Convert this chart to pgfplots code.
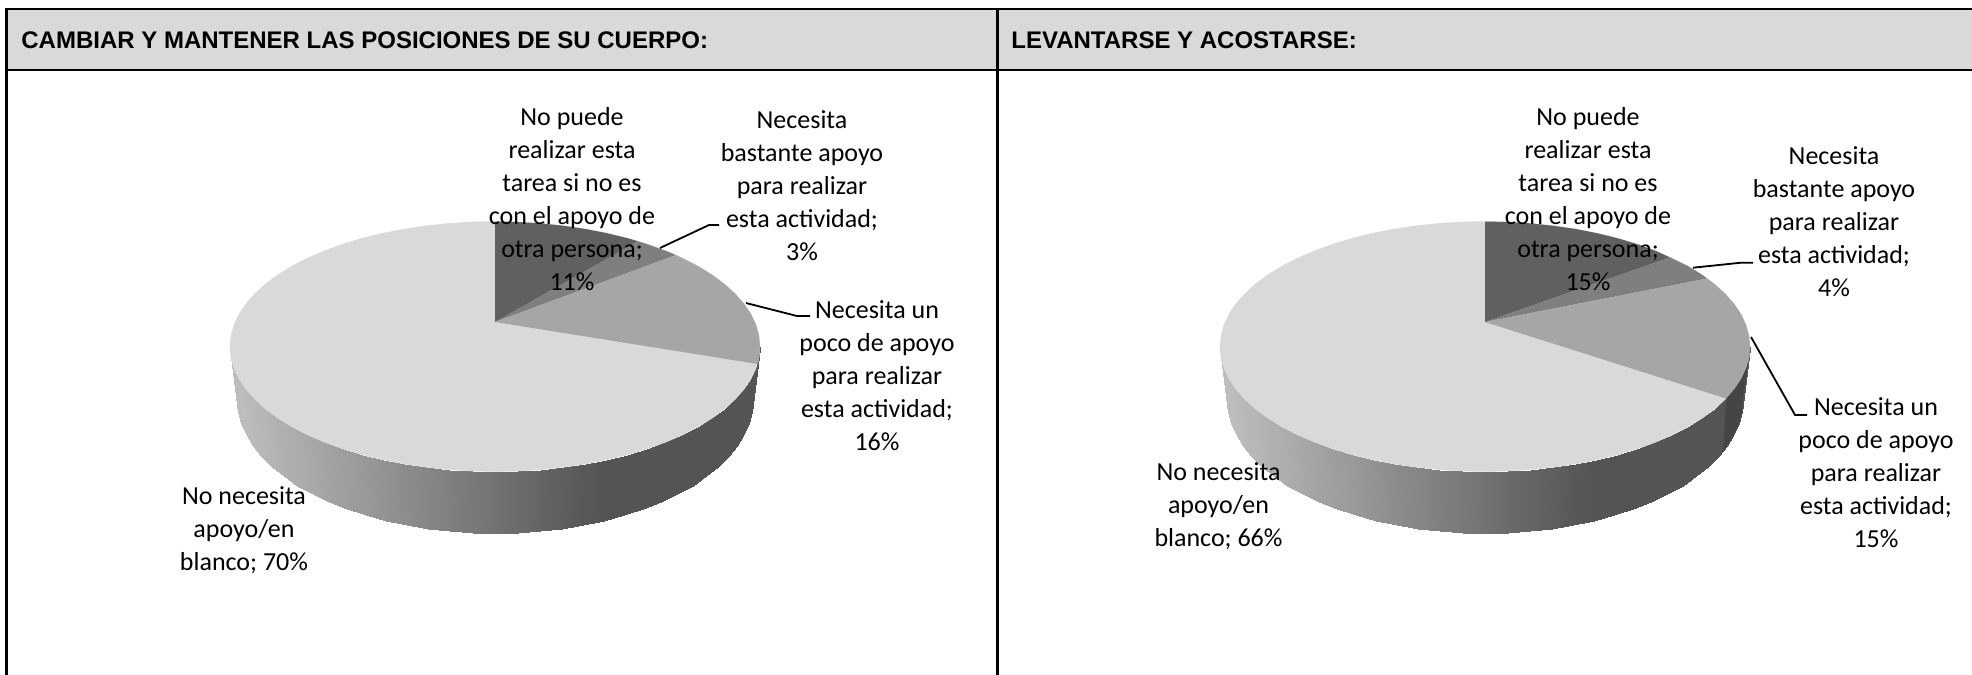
\documentclass[border=0pt]{standalone}
\usepackage{fontspec}
\setmainfont{Carlito}
\newfontfamily\hdrfont{Liberation Sans}
\usepackage{pgfplots}
\usepackage{pgfplotstable}
\pgfplotsset{compat=1.18}

\definecolor{pieA}{HTML}{D9D9D9}
\definecolor{pieB}{HTML}{A6A6A6}
\definecolor{pieC}{HTML}{7F7F7F}
\definecolor{pieD}{HTML}{606060}

% side wall of the disc: top rim, then bottom rim, g = gray level
\pgfplotstableread{
x y g
230 346.5 .74
231 357.4 .74
234 368.2 .74
239 378.9 .74
246 389.3 .73
254.8 399.3 .72
265.5 409 .71
277.9 418.2 .69
292 426.9 .68
307.6 434.9 .66
324.7 442.3 .64
343 448.9 .62
362.5 454.8 .60
383 459.8 .575
404.4 464 .55
426.4 467.2 .525
449 469.6 .50
471.9 471 .475
495 471.5 .45
518.1 471 .42
541 469.6 .395
563.6 467.2 .37
585.6 464 .345
607 459.8 .33
627.5 454.8 .33
647 448.9 .33
665.3 442.3 .33
682.4 434.9 .33
698 426.9 .33
712.1 418.2 .33
724.5 409 .33
735.2 399.3 .33
744 389.3 .33
751 378.9 .33
756 368.2 .33
759 357.4 .33
760 346.5 .33
237 400 .74
238 411.6 .74
240.9 423.1 .74
245.8 434.4 .74
252.6 445.5 .73
261.2 456.2 .72
271.6 466.5 .71
283.6 476.3 .69
297.4 485.5 .68
312.6 494 .66
329.2 501.9 .64
347 508.9 .62
366 515.2 .60
386 520.5 .575
406.8 525 .55
428.2 528.5 .525
450.2 531 .50
472.5 532.5 .475
495 533 .45
517.5 532.5 .42
539.8 531 .395
561.8 528.5 .37
583.2 525 .345
604 520.5 .33
624 515.2 .33
643 508.9 .33
660.8 501.9 .33
677.4 494 .33
692.6 485.5 .33
706.4 476.3 .33
718.4 466.5 .33
728.8 456.2 .33
737.4 445.5 .33
744.2 434.4 .33
749.1 423.1 .33
752 411.6 .33
753 400 .33
}\walltable

% top rim of the disc
\pgfplotstableread{
x y
230 346.5
231 335.6
234 324.8
239 314.1
246 303.7
254.8 293.7
265.5 284
277.9 274.8
292 266.1
307.6 258.1
324.7 250.7
343 244.1
362.5 238.2
383 233.2
404.4 229
426.4 225.8
449 223.4
471.9 222
495 221.5
518.1 222
541 223.4
563.6 225.8
585.6 229
607 233.2
627.5 238.2
647 244.1
665.3 250.7
682.4 258.1
698 266.1
712.1 274.8
724.5 284
735.2 293.7
744 303.7
751 314.1
756 324.8
759 335.6
760 346.5
759 357.4
756 368.2
751 378.9
744 389.3
735.2 399.3
724.5 409
712.1 418.2
698 426.9
682.4 434.9
665.3 442.3
647 448.9
627.5 454.8
607 459.8
585.6 464
563.6 467.2
541 469.6
518.1 471
495 471.5
471.9 471
449 469.6
426.4 467.2
404.4 464
383 459.8
362.5 454.8
343 448.9
324.7 442.3
307.6 434.9
292 426.9
277.9 418.2
265.5 409
254.8 399.3
246 389.3
239 378.9
234 368.2
231 357.4
}\rimtable

\pgfplotsset{
  panel/.style={
    scale only axis, width=986pt, height=337.5pt,
    at={(0,0)}, anchor=south west,
    ymin=0, ymax=675, y dir=reverse,
    hide axis, clip=true,
    colormap/blackwhite, point meta min=0, point meta max=1,
  },
  lead/.style={black, line width=.9pt, no marks},
}
\tikzset{
  lab/.style={font=\fontsize{13}{16.5}\selectfont, align=center, inner sep=0pt, black},
  hdr/.style={font=\fontsize{12}{14}\hdrfont\bfseries, anchor=west, inner sep=0pt, black},
}
\newcommand{\disc}{%
  \addplot[surf, shader=interp, mesh/rows=2, point meta=explicit]
    table[x=x, y=y, meta=g] {\walltable};
  \addplot[fill=pieA, draw=pieA, line width=.2pt] table[x=x, y=y] {\rimtable} -- cycle;
}

\begin{document}
\begin{tikzpicture}
\useasboundingbox (0,0) rectangle (986pt,337.5pt);

% left panel, with frame and header band
\begin{axis}[panel, xmin=0, xmax=1972]
  \fill[pieA] (axis cs:6.5,9) rectangle (axis cs:1972,70);
  \draw[black, line width=1.1pt] (axis cs:6.5,675) -- (axis cs:6.5,9) -- (axis cs:1972,9);
  \draw[black, line width=1.1pt] (axis cs:6.5,70) -- (axis cs:1972,70);
  \draw[black, line width=1.1pt] (axis cs:997.5,9) -- (axis cs:997.5,675);
  \node[hdr] at (axis cs:21,40) {CAMBIAR Y MANTENER LAS POSICIONES DE SU CUERPO:};
  \node[hdr] at (axis cs:1011,40) {LEVANTARSE Y ACOSTARSE:};

  \disc
  % No puede ... 11%
  \addplot[fill=pieD, draw=none] coordinates {(495,322) (495,221.5) (518.1,222) (541,223.4) (563.6,225.8)
    (585.6,229) (607,233.2) (627.5,238.2) (638,241.3)} -- cycle;
  % Necesita bastante apoyo 3%
  \addplot[fill=pieC, draw=none] coordinates {(495,322) (638,241.3) (647,244.1) (665.3,250.7) (676,255)} -- cycle;
  % Necesita un poco de apoyo 16%
  \addplot[fill=pieB, draw=none] coordinates {(495,322) (676,255) (682.4,258.1) (698,266.1) (712.1,274.8)
    (724.5,284) (735.2,293.7) (744,303.7) (751,314.1) (756,324.8) (759,335.6) (760,346.5) (759,357.4) (757.7,364)} -- cycle;

  \addplot[lead] coordinates {(660,248) (709,225) (719,225)};
  \addplot[lead] coordinates {(746,303) (797,316) (810,316)};

  \node[lab] at (axis cs:572,199) {No puede\\realizar esta\\tarea si no es\\con el apoyo de\\otra persona;\\11\%};
  \node[lab] at (axis cs:802,186) {Necesita\\bastante apoyo\\para realizar\\esta actividad;\\3\%};
  \node[lab] at (axis cs:877,375.5) {Necesita un\\poco de apoyo\\para realizar\\esta actividad;\\16\%};
  \node[lab] at (axis cs:244,530) {No necesita\\apoyo/en\\blanco; 70\%};
\end{axis}

% right panel, same disc moved 990 px to the right
\begin{axis}[panel, xmin=-990, xmax=982]
  \disc
  % dark wall of the 15% slice
  \addplot[fill=black!73, draw=none] coordinates {(736,398.5) (744,389.3) (751,378.9) (756,368.2) (759,357.4)
    (760,346.5) (753,400) (752,411.6) (749.1,423.1) (744.2,434.4) (737.4,445.5) (733,452)} -- cycle;
  % No puede ... 15%
  \addplot[fill=pieD, draw=none] coordinates {(495,322) (495,221.5) (518.1,222) (541,223.4) (563.6,225.8)
    (585.6,229) (607,233.2) (627.5,238.2) (647,244.1) (665.3,250.7) (680,257.5)} -- cycle;
  % Necesita bastante apoyo 4%
  \addplot[fill=pieC, draw=none] coordinates {(495,322) (680,257.5) (698,266.1) (712.1,274.8) (717,278.5)} -- cycle;
  % Necesita un poco de apoyo 15%
  \addplot[fill=pieB, draw=none] coordinates {(495,322) (717,278.5) (724.5,284) (735.2,293.7) (744,303.7)
    (751,314.1) (756,324.8) (759,335.6) (760,346.5) (759,357.4) (756,368.2) (751,378.9) (744,389.3) (736,398.5)} -- cycle;

  \addplot[lead] coordinates {(703,267.7) (751,262.7) (763,262.7)};
  \addplot[lead] coordinates {(761,337) (805,415) (817,415)};

  \node[lab] at (axis cs:598,199) {No puede\\realizar esta\\tarea si no es\\con el apoyo de\\otra persona;\\15\%};
  \node[lab] at (axis cs:844,222) {Necesita\\bastante apoyo\\para realizar\\esta actividad;\\4\%};
  \node[lab] at (axis cs:886,473) {Necesita un\\poco de apoyo\\para realizar\\esta actividad;\\15\%};
  \node[lab] at (axis cs:228.5,506.5) {No necesita\\apoyo/en\\blanco; 66\%};
\end{axis}
\end{tikzpicture}
\end{document}
